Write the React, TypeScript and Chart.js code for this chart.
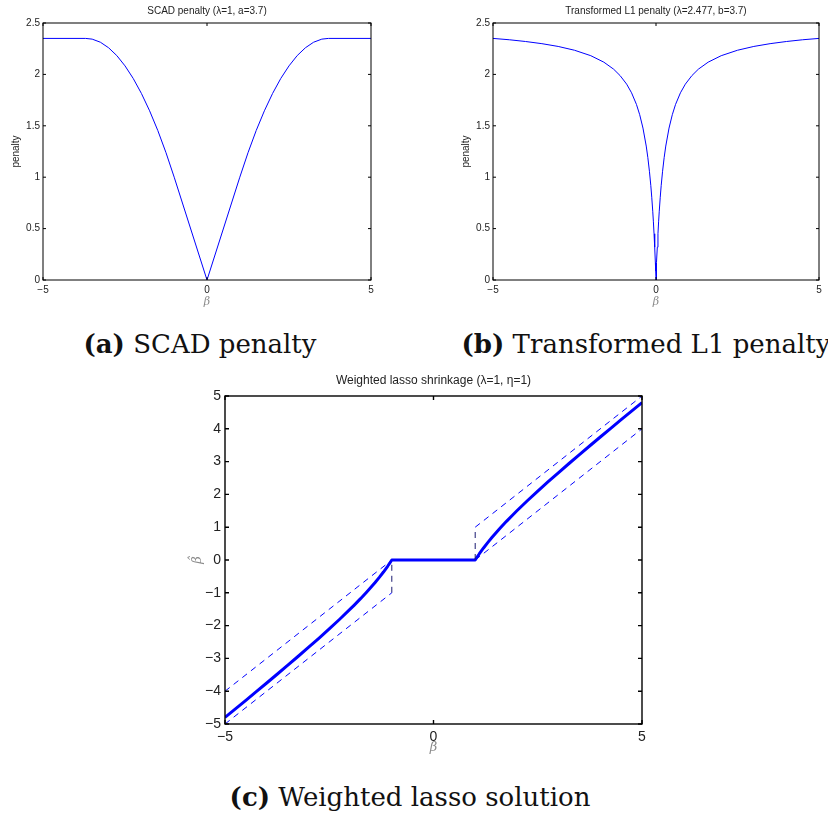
import React, { useEffect, useRef } from 'react';
import { Chart, registerables } from 'chart.js';
Chart.register(...registerables);

// ---------- data ----------
const scadBeta = [-5, -3.7, -3.5, -3.25, -3, -2.75, -2.5, -2.25, -2, -1.75, -1.5, -1.25, -1, 0, 1, 1.25, 1.5, 1.75, 2, 2.25, 2.5, 2.75, 3, 3.25, 3.5, 3.7, 5];
const scadPenalty = [2.35, 2.35, 2.343, 2.313, 2.259, 2.183, 2.083, 1.961, 1.815, 1.646, 1.454, 1.238, 1, 0, 1, 1.238, 1.454, 1.646, 1.815, 1.961, 2.083, 2.183, 2.259, 2.313, 2.343, 2.35, 2.35];

const tl1Beta = [-5, -4.5, -4, -3.5, -3, -2.5, -2, -1.6, -1.3, -1.1, -0.9, -0.75, -0.6, -0.5, -0.4, -0.3, -0.25, -0.2, -0.16, -0.13, -0.1, -0.08, -0.06, -0.04, -0.02, -0.01, 0, 0.01, 0.02, 0.04, 0.06, 0.08, 0.1, 0.13, 0.16, 0.2, 0.25, 0.3, 0.4, 0.5, 0.6, 0.75, 0.9, 1.1, 1.3, 1.6, 2, 2.5, 3, 3.5, 4, 4.5, 5];
const tl1Penalty = [2.35, 2.337, 2.32, 2.299, 2.272, 2.235, 2.182, 2.119, 2.051, 1.988, 1.905, 1.821, 1.708, 1.608, 1.478, 1.303, 1.19, 1.053, 0.921, 0.805, 0.669, 0.566, 0.45, 0.319, 0.171, 0.088, 0, 0.088, 0.171, 0.319, 0.45, 0.566, 0.669, 0.805, 0.921, 1.053, 1.19, 1.303, 1.478, 1.608, 1.708, 1.821, 1.905, 1.988, 2.051, 2.119, 2.182, 2.235, 2.272, 2.299, 2.32, 2.337, 2.35];

const lassoBeta = [-5, -4.75, -4.5, -4.25, -4, -3.75, -3.5, -3.25, -3, -2.75, -2.5, -2.25, -2, -1.9, -1.75, -1.6, -1.5, -1.4, -1.3, -1.2, -1.1, -1.05, -1, 1, 1.05, 1.1, 1.2, 1.3, 1.4, 1.5, 1.6, 1.75, 1.9, 2, 2.25, 2.5, 2.75, 3, 3.25, 3.5, 3.75, 4, 4.25, 4.5, 4.75, 5];
const lassoEstimate = [-4.8, -4.539, -4.278, -4.015, -3.75, -3.483, -3.214, -2.942, -2.667, -2.386, -2.1, -1.806, -1.5, -1.374, -1.179, -0.975, -0.833, -0.686, -0.531, -0.367, -0.191, -0.098, 0, 0, 0.098, 0.191, 0.367, 0.531, 0.686, 0.833, 0.975, 1.179, 1.374, 1.5, 1.806, 2.1, 2.386, 2.667, 2.942, 3.214, 3.483, 3.75, 4.015, 4.278, 4.539, 4.8];

const guideNegUpperBeta = [-5, -1];
const guideNegUpperHat = [-4, 0];
const guideNegLowerBeta = [-5, -1];
const guideNegLowerHat = [-5, -1];
const guidePosUpperBeta = [1, 5];
const guidePosUpperHat = [1, 5];
const guidePosLowerBeta = [1, 5];
const guidePosLowerHat = [0, 4];
const jumpNegBeta = [-1, -1];
const jumpNegHat = [-1, 0];
const jumpPosBeta = [1, 1];
const jumpPosHat = [0, 1];

const penaltyXTicks = [-5, 0, 5];
const penaltyYTicks = [0, 0.5, 1, 1.5, 2, 2.5];
const lassoXTicks = [-5, 0, 5];
const lassoYTicks = [-5, -4, -3, -2, -1, 0, 1, 2, 3, 4, 5];

const titleA = 'SCAD penalty (\u03bb=1, a=3.7)';
const titleB = 'Transformed L1 penalty (\u03bb=2.477, b=3.7)';
const titleC = 'Weighted lasso shrinkage (\u03bb=1, \u03b7=1)';

// ---------- helpers ----------
const fmt = (v: number) => (v < 0 ? '\u2212' + String(-v) : String(v));
const pts = (xs: number[], ys: number[]) => xs.map((x, i) => ({ x, y: ys[i] }));

type AxCfg = {
  xTicks: number[];
  yTicks: number[];
  boxWidth: number;
  tickLen: number;
  title: string;
  titleFont: string;
  titleDy: number;
  xlabel: string;
  xlabelFont: string;
  xlabelDy: number;
  ylabel: string;
  ylabelFont: string;
  ylabelDx: number;
  ylabelColor: string;
  ylabelHat?: boolean;
};

function axesPlugin(cfg: AxCfg) {
  return {
    id: 'matlabAxes',
    afterDatasetsDraw(chart: any) {
      const { ctx, chartArea: a, scales } = chart;
      const xs = scales.x;
      const ys = scales.y;
      ctx.save();
      ctx.strokeStyle = '#000';
      ctx.lineWidth = cfg.boxWidth;
      ctx.beginPath();
      for (const v of cfg.xTicks) {
        const p = xs.getPixelForValue(v);
        ctx.moveTo(p, a.bottom);
        ctx.lineTo(p, a.bottom - cfg.tickLen);
        ctx.moveTo(p, a.top);
        ctx.lineTo(p, a.top + cfg.tickLen);
      }
      for (const v of cfg.yTicks) {
        const p = ys.getPixelForValue(v);
        ctx.moveTo(a.left, p);
        ctx.lineTo(a.left + cfg.tickLen, p);
        ctx.moveTo(a.right, p);
        ctx.lineTo(a.right - cfg.tickLen, p);
      }
      ctx.stroke();
      ctx.strokeRect(a.left, a.top, a.right - a.left, a.bottom - a.top);

      const cx = (a.left + a.right) / 2;
      const cy = (a.top + a.bottom) / 2;
      ctx.textAlign = 'center';
      ctx.textBaseline = 'middle';
      ctx.fillStyle = '#222';
      ctx.font = cfg.titleFont;
      ctx.fillText(cfg.title, cx, a.top + cfg.titleDy);

      ctx.fillStyle = '#8a8a8a';
      ctx.font = cfg.xlabelFont;
      ctx.fillText(cfg.xlabel, cx, a.bottom + cfg.xlabelDy);

      ctx.translate(a.left + cfg.ylabelDx, cy);
      ctx.rotate(-Math.PI / 2);
      ctx.fillStyle = cfg.ylabelColor;
      ctx.font = cfg.ylabelFont;
      ctx.fillText(cfg.ylabel, 0, 0);
      if (cfg.ylabelHat) {
        ctx.fillText('\u02c6', 1, -3);
      }
      ctx.restore();
    },
  };
}

type PanelProps = {
  left: number;
  top: number;
  width: number;
  height: number;
  pad: { left: number; top: number; right: number; bottom: number };
  yWidth: number;
  xHeight: number;
  datasets: any[];
  xMin: number;
  xMax: number;
  yMin: number;
  yMax: number;
  xTicks: number[];
  yTicks: number[];
  tickFontSize: number;
  yPad: number;
  xPad: number;
  ax: AxCfg;
};

function Panel(p: PanelProps) {
  const ref = useRef<HTMLCanvasElement | null>(null);
  useEffect(() => {
    if (!ref.current) return;
    const tickFont = { family: "'Liberation Sans', Arial, sans-serif", size: p.tickFontSize };
    const chart = new Chart(ref.current, {
      type: 'line',
      data: { datasets: p.datasets },
      options: {
        animation: false,
        responsive: false,
        maintainAspectRatio: false,
        layout: { padding: p.pad },
        elements: { point: { radius: 0 }, line: { tension: 0 } },
        plugins: { legend: { display: false }, tooltip: { enabled: false }, title: { display: false } },
        scales: {
          x: {
            type: 'linear',
            min: p.xMin,
            max: p.xMax,
            grid: { display: false, drawTicks: false },
            border: { display: false },
            afterBuildTicks: (s: any) => {
              s.ticks = p.xTicks.map((v) => ({ value: v }));
            },
            afterFit: (s: any) => {
              s.height = p.xHeight;
            },
            ticks: {
              autoSkip: false,
              maxRotation: 0,
              minRotation: 0,
              padding: p.xPad,
              color: '#222',
              font: tickFont,
              callback: (v: any) => fmt(Number(v)),
            },
          },
          y: {
            type: 'linear',
            min: p.yMin,
            max: p.yMax,
            grid: { display: false, drawTicks: false },
            border: { display: false },
            afterBuildTicks: (s: any) => {
              s.ticks = p.yTicks.map((v) => ({ value: v }));
            },
            afterFit: (s: any) => {
              s.width = p.yWidth;
            },
            ticks: {
              autoSkip: false,
              padding: p.yPad,
              color: '#222',
              font: tickFont,
              callback: (v: any) => fmt(Number(v)),
            },
          },
        },
      } as any,
      plugins: [axesPlugin(p.ax) as any],
    });
    return () => chart.destroy();
  }, []);
  return (
    <canvas
      ref={ref}
      width={p.width}
      height={p.height}
      style={{ position: 'absolute', left: p.left, top: p.top, width: p.width, height: p.height }}
    />
  );
}

const blue = '#0000ff';

export default function App() {
  const dsA = [{ data: pts(scadBeta, scadPenalty), borderColor: blue, borderWidth: 1, fill: false }];
  const dsB = [{ data: pts(tl1Beta, tl1Penalty), borderColor: blue, borderWidth: 1, fill: false }];
  const dash = [6, 5];
  const dsC = [
    { data: pts(guideNegUpperBeta, guideNegUpperHat), borderColor: blue, borderWidth: 1, borderDash: dash },
    { data: pts(guideNegLowerBeta, guideNegLowerHat), borderColor: blue, borderWidth: 1, borderDash: dash },
    { data: pts(guidePosUpperBeta, guidePosUpperHat), borderColor: blue, borderWidth: 1, borderDash: dash },
    { data: pts(guidePosLowerBeta, guidePosLowerHat), borderColor: blue, borderWidth: 1, borderDash: dash },
    { data: pts(jumpNegBeta, jumpNegHat), borderColor: '#1a1a70', borderWidth: 1, borderDash: dash },
    { data: pts(jumpPosBeta, jumpPosHat), borderColor: '#1a1a70', borderWidth: 1, borderDash: dash },
    { data: pts(lassoBeta, lassoEstimate), borderColor: blue, borderWidth: 3, borderJoinStyle: 'round' },
  ];

  const smallAx = {
    xTicks: penaltyXTicks,
    yTicks: penaltyYTicks,
    boxWidth: 1,
    tickLen: 3,
    titleFont: "10px 'Liberation Sans', Arial, sans-serif",
    titleDy: -12,
    xlabel: '\u03b2',
    xlabelFont: "italic 11px 'DejaVu Serif', serif",
    xlabelDy: 22,
    ylabel: 'penalty',
    ylabelFont: "10px 'Liberation Sans', Arial, sans-serif",
    ylabelDx: -27,
    ylabelColor: '#222',
  };

  const captionStyle: React.CSSProperties = {
    position: 'absolute',
    width: 500,
    textAlign: 'center',
    fontFamily: "'DejaVu Serif', serif",
    fontSize: 26,
    lineHeight: '30px',
    color: '#111',
    whiteSpace: 'nowrap',
  };

  return (
    <div style={{ position: 'absolute', left: 0, top: 0, width: 828, height: 814, background: '#fff', overflow: 'hidden' }}>
      <Panel
        left={0}
        top={0}
        width={414}
        height={310}
        pad={{ left: 0, top: 23, right: 43, bottom: 10 }}
        yWidth={43}
        xHeight={20}
        datasets={dsA}
        xMin={-5}
        xMax={5}
        yMin={0}
        yMax={2.5}
        xTicks={penaltyXTicks}
        yTicks={penaltyYTicks}
        tickFontSize={10}
        yPad={3}
        xPad={4}
        ax={{ ...smallAx, title: titleA }}
      />
      <Panel
        left={414}
        top={0}
        width={414}
        height={310}
        pad={{ left: 0, top: 23, right: 9, bottom: 10 }}
        yWidth={79}
        xHeight={20}
        datasets={dsB}
        xMin={-5}
        xMax={5}
        yMin={0}
        yMax={2.5}
        xTicks={penaltyXTicks}
        yTicks={penaltyYTicks}
        tickFontSize={10}
        yPad={3}
        xPad={4}
        ax={{ ...smallAx, title: titleB }}
      />
      <Panel
        left={180}
        top={370}
        width={480}
        height={390}
        pad={{ left: 0, top: 26, right: 18, bottom: 6 }}
        yWidth={45}
        xHeight={30}
        datasets={dsC}
        xMin={-5}
        xMax={5}
        yMin={-5}
        yMax={5}
        xTicks={lassoXTicks}
        yTicks={lassoYTicks}
        tickFontSize={14}
        yPad={4}
        xPad={5}
        ax={{
          xTicks: lassoXTicks,
          yTicks: lassoYTicks,
          boxWidth: 1.4,
          tickLen: 4,
          title: titleC,
          titleFont: "12px 'Liberation Sans', Arial, sans-serif",
          titleDy: -15,
          xlabel: '\u03b2',
          xlabelFont: "italic 13px 'DejaVu Serif', serif",
          xlabelDy: 24,
          ylabel: '\u03b2',
          ylabelFont: "italic 13px 'DejaVu Serif', serif",
          ylabelDx: -27,
          ylabelColor: '#8a8a8a',
          ylabelHat: true,
        }}
      />
      <div style={{ ...captionStyle, left: 200 - 250, top: 329 }}>
        <b>(a)</b> SCAD penalty
      </div>
      <div style={{ ...captionStyle, left: 646 - 250, top: 329 }}>
        <b>(b)</b> Transformed L1 penalty
      </div>
      <div style={{ ...captionStyle, left: 410 - 250, top: 782 }}>
        <b>(c)</b> Weighted lasso solution
      </div>
    </div>
  );
}
